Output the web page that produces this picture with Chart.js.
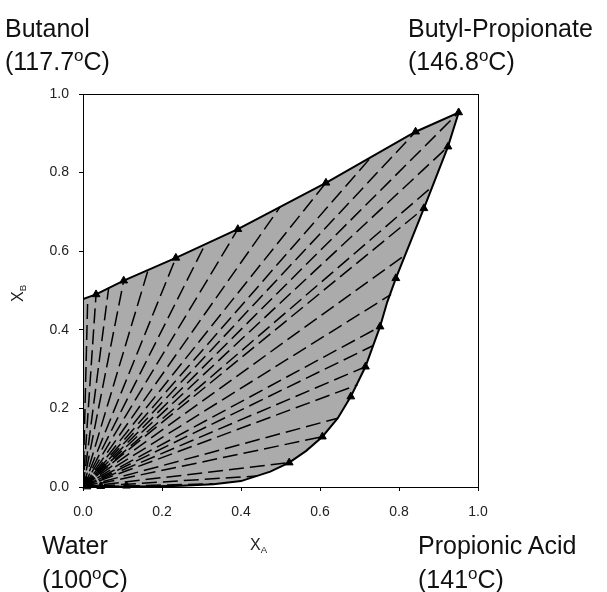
<!DOCTYPE html>
<html>
<head>
<meta charset="utf-8">
<script src="https://cdn.jsdelivr.net/npm/chart.js@4"></script>
<style>
  body { margin: 0; background: #fff; }
  #wrap { position: relative; width: 607px; height: 592px; }
  canvas { position: absolute; left: 0; top: 0; }
  .lbl { position: absolute; font-family: "Liberation Sans", Arial, sans-serif; font-size: 25px; color: #111; white-space: nowrap; }
  .lbl sup { font-size: 0.68em; position: relative; top: -0.55em; vertical-align: baseline; line-height: 0; }
  .ax { position: absolute; font-family: "Liberation Sans", Arial, sans-serif; font-size: 16px; color: #222; white-space: nowrap; }
  .ax sub { font-size: 0.6em; position: relative; top: 0.35em; vertical-align: baseline; line-height: 0; }
</style>
</head>
<body>
<div id="wrap">
  <canvas id="c" width="607" height="592"></canvas>
  <div class="lbl" style="left:5px; top:12px; line-height:33px;">Butanol<br>(117.7<sup>o</sup>C)</div>
  <div class="lbl" style="left:408px; top:12px; line-height:33px;">Butyl-Propionate<br>(146.8<sup>o</sup>C)</div>
  <div class="lbl" style="left:42px; top:528px; line-height:34px;">Water<br>(100<sup>o</sup>C)</div>
  <div class="lbl" style="left:418px; top:528px; line-height:34px;">Propionic Acid<br>(141<sup>o</sup>C)</div>
  <div class="ax" style="left:250px; top:536px;">X<sub>A</sub></div>
  <div class="ax" style="left:9px; top:302px; transform: rotate(-90deg); transform-origin: 0 0;">X<sub>B</sub></div>
</div>
<script>
// axis ticks
const tickLabels = ["0.0", "0.2", "0.4", "0.6", "0.8", "1.0"];

// two-phase envelope (closed outline, water corner -> butanol side -> ester corner -> acid side)
const envX = [0, 0, 0.033, 0.103, 0.235, 0.392, 0.615, 0.842, 0.951, 0.924, 0.863, 0.792, 0.77, 0.752, 0.715, 0.678, 0.645, 0.606, 0.565, 0.522, 0.474, 0.4, 0.33, 0.25, 0.15, 0];
const envY = [0, 0.478, 0.49, 0.525, 0.583, 0.656, 0.774, 0.904, 0.953, 0.866, 0.709, 0.531, 0.47, 0.408, 0.306, 0.23, 0.175, 0.128, 0.092, 0.062, 0.039, 0.015, 0.007, 0.003, 0.001, 0];

// measured points (triangles)
const markX = [0.033, 0.103, 0.235, 0.392, 0.615, 0.842, 0.951, 0.924, 0.863, 0.792, 0.752, 0.715, 0.678, 0.606, 0.522, 0.11, 0.045, 0.01];
const markY = [0.49, 0.525, 0.583, 0.656, 0.774, 0.904, 0.953, 0.866, 0.709, 0.531, 0.408, 0.306, 0.23, 0.128, 0.062, 0.003, 0.002, 0.001];

// dashed lines from the water corner out to the envelope
const rayEndX = [0.012, 0.033, 0.065, 0.103, 0.165, 0.235, 0.31, 0.392, 0.5, 0.615, 0.73, 0.842, 0.951, 0.924, 0.885, 0.863, 0.815, 0.78, 0.752, 0.735, 0.715, 0.695, 0.645, 0.606, 0.522, 0.44, 0.33];
const rayEndY = [0.481, 0.49, 0.507, 0.525, 0.553, 0.583, 0.619, 0.656, 0.714, 0.774, 0.84, 0.904, 0.953, 0.866, 0.765, 0.709, 0.59, 0.49, 0.408, 0.36, 0.306, 0.26, 0.175, 0.128, 0.062, 0.028, 0.008];

const toPts = (xs, ys) => xs.map((x, i) => ({ x: x, y: ys[i] }));

const datasets = [
  {
    data: toPts(envX, envY),
    showLine: true,
    borderColor: "#000",
    borderWidth: 2,
    pointRadius: 0,
    tension: 0,
    order: 1,
  },
  {
    data: toPts(markX, markY),
    showLine: false,
    pointStyle: "triangle",
    pointRadius: 4.5,
    backgroundColor: "#000",
    borderColor: "#000",
    borderWidth: 1,
    clip: false,
    order: 0,
  },
];
rayEndX.forEach((x, i) => {
  datasets.push({
    data: [{ x: 0, y: 0 }, { x: x, y: rayEndY[i] }],
    showLine: true,
    borderColor: "#000",
    borderWidth: 1.5,
    borderDash: [15, 6],
    borderDashOffset: (i % 2) * 4,
    pointRadius: 0,
    order: 2,
  });
});

// grey shading of the two-liquid region, under everything else
const shade = {
  id: "shade",
  beforeDatasetsDraw(chart) {
    const pts = chart.getDatasetMeta(0).data;
    const ctx = chart.ctx;
    ctx.save();
    ctx.beginPath();
    pts.forEach((p, i) => (i ? ctx.lineTo(p.x, p.y) : ctx.moveTo(p.x, p.y)));
    ctx.closePath();
    ctx.fillStyle = "#ababab";
    ctx.fill();
    ctx.restore();
  },
};

// box round the plot
const frame = {
  id: "frame",
  afterDraw(chart) {
    const { ctx, chartArea: { left, top, width, height } } = chart;
    ctx.save();
    ctx.strokeStyle = "#000";
    ctx.lineWidth = 1;
    ctx.strokeRect(left + 0.5, top + 0.5, width, height);
    ctx.restore();
  },
};

const axisCommon = {
  type: "linear",
  min: 0,
  max: 1,
  grid: { drawOnChartArea: false, drawTicks: true, tickLength: 4, color: "#000" },
  border: { display: true, color: "#000", width: 1 },
};

new Chart(document.getElementById("c"), {
  type: "scatter",
  data: { datasets: datasets },
  options: {
    responsive: false,
    animation: false,
    layout: { padding: { left: 0, top: 94, right: 129, bottom: 0 } },
    plugins: { legend: { display: false }, tooltip: { enabled: false } },
    scales: {
      x: {
        ...axisCommon,
        ticks: {
          stepSize: 0.2,
          padding: 13,
          color: "#222",
          font: { family: "Liberation Sans", size: 14 },
          callback: (v, i) => tickLabels[i],
        },
        afterFit: (s) => { s.height = 105; },
      },
      y: {
        ...axisCommon,
        ticks: {
          stepSize: 0.2,
          padding: 10,
          color: "#222",
          font: { family: "Liberation Sans", size: 14 },
          callback: (v, i) => tickLabels[i],
        },
        afterFit: (s) => { s.width = 83; },
      },
    },
  },
  plugins: [shade, frame],
});
</script>
</body>
</html>
